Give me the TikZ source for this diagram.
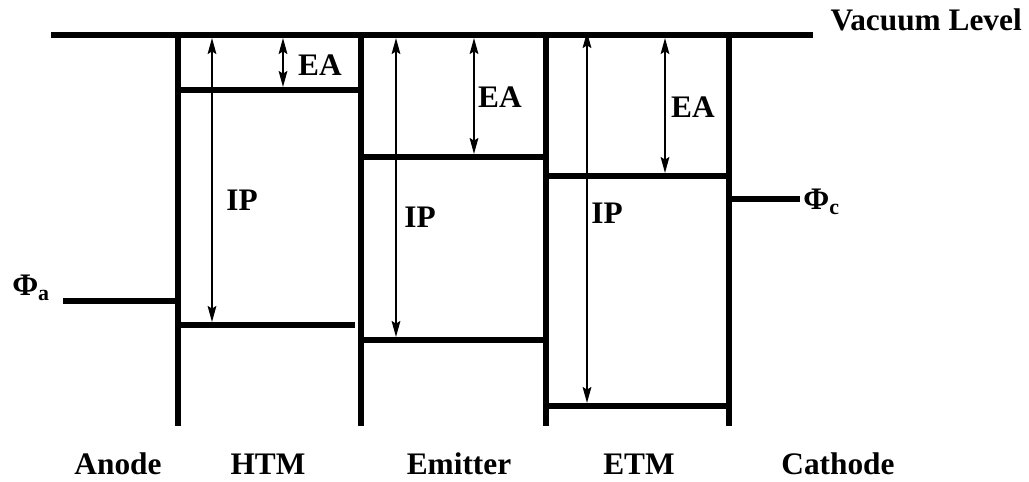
\documentclass[tikz,border=0pt]{standalone}
\usepackage{fontspec}
\setmainfont{Liberation Serif}
\usetikzlibrary{arrows.meta}

\tikzset{
  level/.style={line width=4pt},
  gap/.style={line width=1.5pt,{Stealth[length=12pt,width=6.5pt,inset=2pt]}-{Stealth[length=12pt,width=6.5pt,inset=2pt]}},
  lbl/.style={inner sep=0pt,font=\fontsize{23.5}{28}\selectfont\bfseries}
}

\begin{document}
\begin{tikzpicture}[x=0.75pt,y=-0.75pt]
\path[use as bounding box] (0,0) rectangle (1029,482);
% vacuum level and material walls
\draw[level] (51,35) -- (813,35);
\foreach \wx in {178,361,546,729}
  \draw[level] (\wx,35) -- (\wx,426);
% anode and cathode work functions
\draw[level] (63,301) -- (178,301);
\draw[level] (729,199) -- (800,199);
% HTM levels
\draw[level] (178,90) -- (358,90);
\draw[level] (178,325) -- (355,325);
% emitter levels
\draw[level] (361,157) -- (546,157);
\draw[level] (361,340) -- (546,340);
% ETM levels
\draw[level] (546,176) -- (729,176);
\draw[level] (546,406) -- (729,406);
% IP and EA arrows
\draw[gap] (212,38) -- (212,322);
\draw[gap] (283,38) -- (283,87);
\draw[gap] (396,38) -- (396,337);
\draw[gap] (474,38) -- (474,154);
\draw[gap] (587,32) -- (587,403);
\draw[gap] (665,38) -- (665,173);
% labels
\node[lbl,anchor=east] (vac) at (1022,20) {Vacuum Level};
\node[lbl] (ea1) at (320,65) {EA};
\node[lbl] (ea2) at (500,97) {EA};
\node[lbl] (ea3) at (693,107) {EA};
\node[lbl] (ip1) at (242,200) {IP};
\node[lbl] (ip2) at (420,217) {IP};
\node[lbl] (ip3) at (607,213) {IP};
\node[lbl,anchor=west] (phia) at (12,288) {Φ\textsubscript{a}};
\node[lbl,anchor=west] (phic) at (803,202) {Φ\textsubscript{c}};
\node[lbl] (anode) at (118,464) {Anode};
\node[lbl] (htm) at (268,464) {HTM};
\node[lbl] (emit) at (459,464) {Emitter};
\node[lbl] (etm) at (639,464) {ETM};
\node[lbl] (cath) at (838,464) {Cathode};
\end{tikzpicture}
\end{document}
